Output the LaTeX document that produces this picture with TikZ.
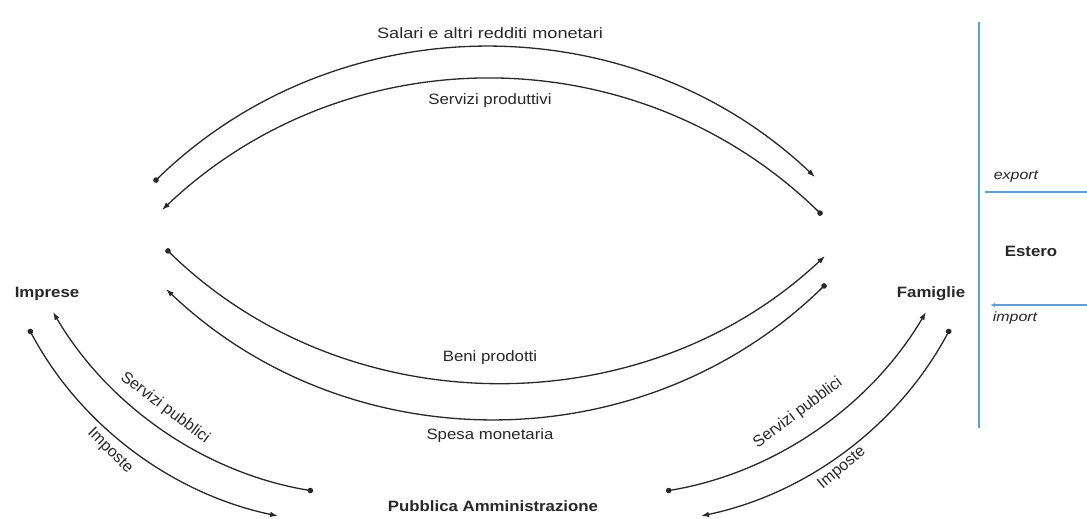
\documentclass[tikz,border=0pt]{standalone}
\usepackage{fontspec}
\setmainfont{Liberation Sans}
\usetikzlibrary{arrows.meta}
\definecolor{lineblue}{RGB}{96,160,214}
\definecolor{ink}{RGB}{40,40,40}
\begin{document}
\begin{tikzpicture}[x=1pt,y=-1pt,
  flow/.style={line width=1.3pt, draw=ink, {Circle[length=5.5pt]}-{Latex[length=8pt,width=5.5pt]}},
  lbl/.style={font=\fontsize{15}{18}\selectfont, text=ink, xscale=1.12, inner sep=0pt},
  rlbl/.style={font=\fontsize{16}{19}\selectfont, text=ink, inner sep=0pt},
  ttl/.style={font=\bfseries\fontsize{15}{18}\selectfont, text=ink, xscale=1.12, inner sep=0pt},
  sml/.style={font=\itshape\fontsize{13.5}{16}\selectfont, text=ink, xscale=1.18, inner sep=0pt},
  ext/.style={line width=1.2pt, draw=lineblue}]
\fill[white] (0,0) rectangle (1087,519);
\useasboundingbox (0,0) rectangle (1087,519);

% main actors
\node[ttl] (imprese) at (47,294) {Imprese};
\node[ttl] (famiglie) at (931,294) {Famiglie};
\node[ttl] (estero) at (1031,251) {Estero};
\node[ttl] (pa) at (493,506) {Pubblica Amministrazione};

% endpoints
\coordinate (a1s) at (154,182); \coordinate (a1e) at (815,177);
\coordinate (a2s) at (822,215); \coordinate (a2e) at (162,210);
\coordinate (b1s) at (166,249); \coordinate (b1e) at (825,256);
\coordinate (b2s) at (826,284); \coordinate (b2e) at (166,289);
\coordinate (lss) at (313,491); \coordinate (lse) at (53,312);
\coordinate (lis) at (29,329);  \coordinate (lie) at (278,516);
\coordinate (rss) at (666,491); \coordinate (rse) at (926,312);
\coordinate (ris) at (950,329); \coordinate (rie) at (701,516);

% arcs
\draw[flow] (a1s) .. controls (338,3) and (631,3) .. (a1e);
\draw[flow] (a2s) .. controls (637,34.5) and (347,34.5) .. (a2e);
\draw[flow] (b1s) .. controls (347,426) and (644,426) .. (b1e);
\draw[flow] (b2s) .. controls (643,463) and (349,463) .. (b2e);
\draw[flow] (lss) .. controls (205,473) and (109,407) .. (lse);
\draw[flow] (lis) .. controls (80,425) and (171.5,493.6) .. (lie);
\draw[flow] (rss) .. controls (774,473) and (870,407) .. (rse);
\draw[flow] (ris) .. controls (899,425) and (807.5,493.6) .. (rie);

% arc labels
\node[lbl, xscale=1.08] (l1) at (490,33) {Salari e altri redditi monetari};
\node[lbl] (l2) at (490,101) {Servizi produttivi};
\node[lbl] (l3) at (490,358) {Beni prodotti};
\node[lbl] (l4) at (490,436) {Spesa monetaria};
\node[rlbl, rotate=-37] (l5) at (165,408) {Servizi pubblici};
\node[rlbl, rotate=-45] (l6) at (110,451) {Imposte};
\node[rlbl, rotate=37] (l7) at (798,413) {Servizi pubblici};
\node[rlbl, rotate=40] (l8) at (842,468) {Imposte};

% foreign sector
\coordinate (vt) at (979,22); \coordinate (vb) at (979,428);
\coordinate (ex1) at (985,192); \coordinate (ex2) at (1087,192);
\coordinate (im1) at (1087,305); \coordinate (im2) at (990,305);
\draw[ext] (vt) -- (vb);
\draw[ext] (ex1) -- (ex2);
\draw[ext, -{Latex[length=5pt,width=4pt]}] (im1) -- (im2);
\node[sml] (exl) at (1016,177) {export};
\node[sml] (iml) at (1015,318) {import};
\end{tikzpicture}
\end{document}
